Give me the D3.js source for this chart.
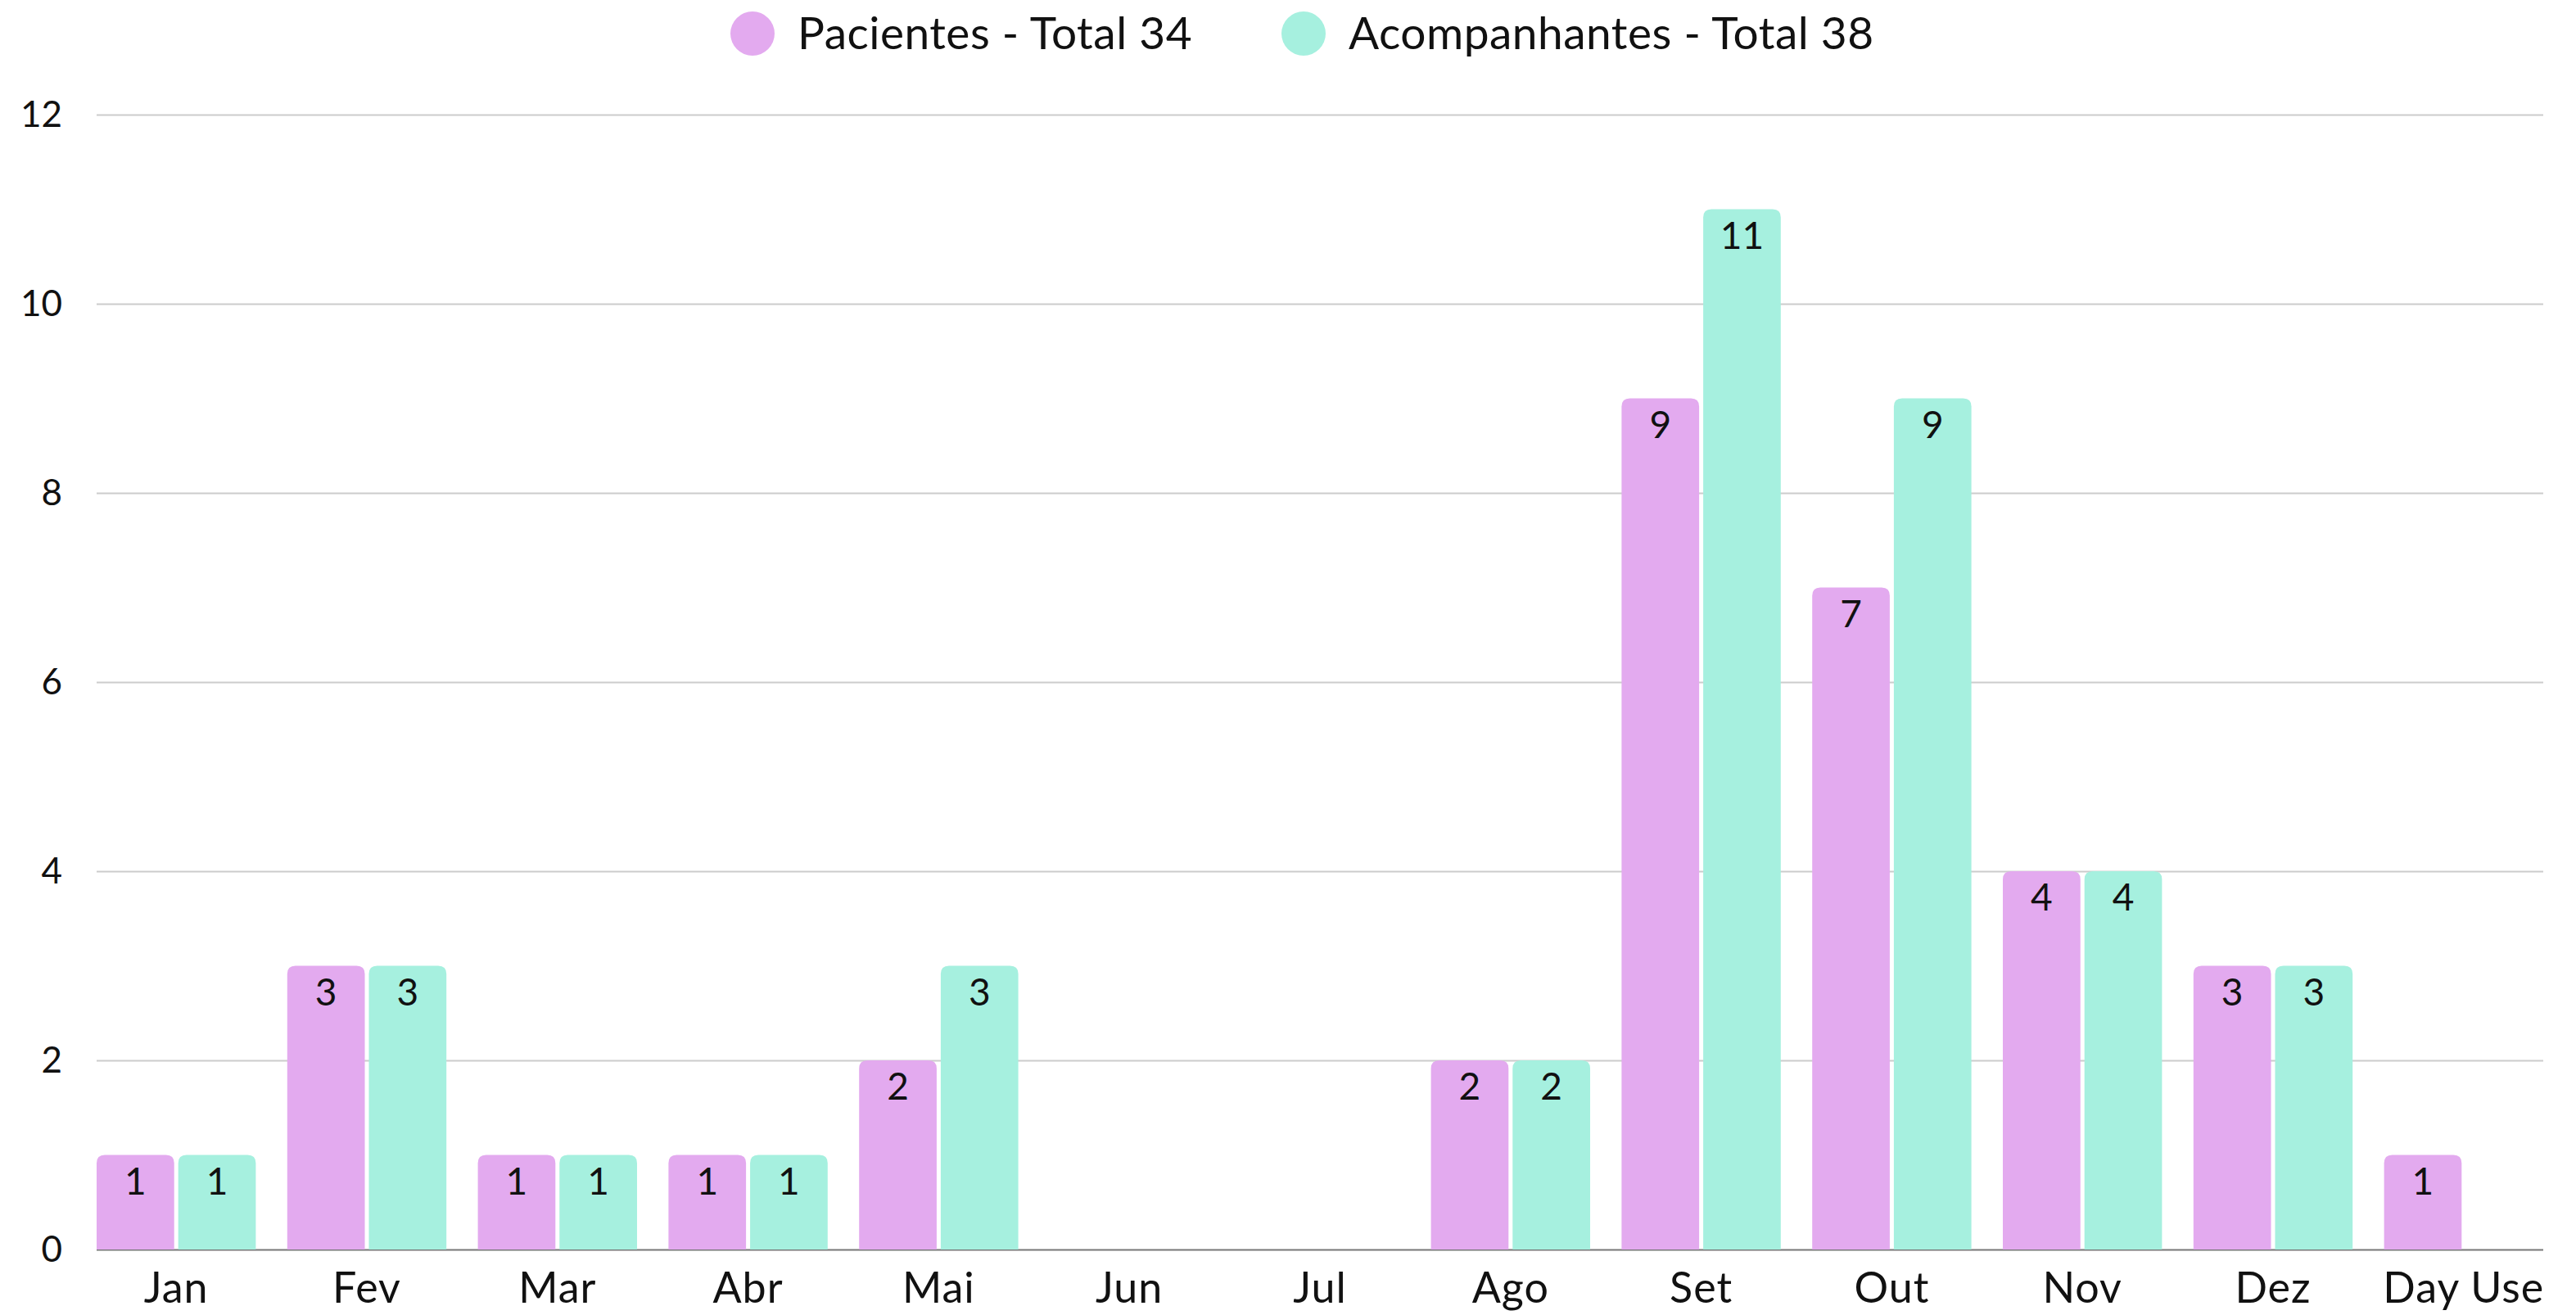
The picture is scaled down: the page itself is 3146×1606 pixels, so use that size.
<!DOCTYPE html>
<html>
<head>
<meta charset="utf-8">
<script src="https://cdn.jsdelivr.net/npm/d3@7"></script>
<style>
    body { margin: 0; background: #fff; }
    svg { display: block; font-family: Lato, 'Open Sans', sans-serif; }
</style>
</head>
<body>
<svg id="chart"></svg>
<script>
let months = ['Jan', 'Fev', 'Mar', 'Abr', 'Mai', 'Jun', 'Jul', 'Ago', 'Set', 'Out', 'Nov', 'Dez', 'Day Use'];
let pacientes = [1, 3, 1, 1, 2, 0, 0, 2, 9, 7, 4, 3, 1];
let acompanhantes = [1, 3, 1, 1, 3, 0, 0, 2, 11, 9, 4, 3, 0];
let seriesNames = ['Pacientes - Total 34', 'Acompanhantes - Total 38'];
let seriesColors = ['#e3aaef', '#a6f0df'];
let yTicks = [0, 2, 4, 6, 8, 10, 12];

window.addEventListener('load', () => {
    let width = 3146;
    let height = 1606;
    let margin = {top: 140, right: 40, bottom: 80, left: 118};

    let svg = d3.select('#chart')
                .attr('width', width)
                .attr('height', height);

    let x = d3.scaleBand()
              .domain(months)
              .range([margin.left, width - margin.right])
              .paddingInner(0.165)
              .paddingOuter(0);

    let xInner = d3.scaleBand()
                   .domain([0, 1])
                   .range([0, x.bandwidth()])
                   .paddingInner(0.05);

    let y = d3.scaleLinear()
              .domain([0, 12])
              .range([1526, margin.top]);

    // grid lines + y labels
    let yAxis = svg.append('g')
                   .attr('transform', `translate(${margin.left},0)`)
                   .call(d3.axisLeft(y).tickValues(yTicks).tickSize(-(width - margin.right - margin.left)).tickPadding(42));
    yAxis.select('.domain').remove();
    yAxis.selectAll('.tick line').attr('stroke', '#cccccc').attr('stroke-width', 2);
    yAxis.selectAll('.tick text')
         .attr('font-size', 44)
         .attr('fill', '#111')
         .attr('font-family', 'Lato, sans-serif');
    yAxis.selectAll('.tick').filter(d => d === 0).select('line').attr('stroke', '#777');

    let xAxis = svg.append('g')
                   .attr('transform', `translate(0,${y(0)})`)
                   .call(d3.axisBottom(x).tickSize(0).tickPadding(28));
    xAxis.select('.domain').remove();
    xAxis.selectAll('.tick text')
         .attr('font-size', 52)
         .attr('fill', '#111')
         .attr('dy', '0.71em')
         .attr('letter-spacing', 1)
         .attr('font-family', 'Lato, sans-serif');

    let rounded = (x0, w, top, bottom, r) => {
        r = Math.min(r, (bottom - top), w / 2);
        return `M${x0},${bottom}V${top + r}Q${x0},${top} ${x0 + r},${top}` +
               `H${x0 + w - r}Q${x0 + w},${top} ${x0 + w},${top + r}V${bottom}Z`;
    };

    let rows = [];
    months.forEach((m, i) => {
        [pacientes[i], acompanhantes[i]].forEach((v, s) => {
            if (v > 0) rows.push({month: m, series: s, value: v});
        });
    });

    let bars = svg.append('g');
    bars.selectAll('path')
        .data(rows)
        .enter().append('path')
        .attr('d', d => rounded(x(d.month) + xInner(d.series), xInner.bandwidth(), y(d.value), y(0), 10))
        .attr('fill', d => seriesColors[d.series]);

    bars.selectAll('text')
        .data(rows)
        .enter().append('text')
        .attr('x', d => x(d.month) + xInner(d.series) + xInner.bandwidth() / 2)
        .attr('y', d => y(d.value) + 48)
        .attr('text-anchor', 'middle')
        .attr('font-size', 46)
        .attr('fill', '#111')
        .text(d => d.value);

    // legend
    let legendX = [919, 1592];
    let legend = svg.append('g');
    seriesNames.forEach((name, i) => {
        legend.append('circle')
              .attr('cx', legendX[i])
              .attr('cy', 41)
              .attr('r', 27)
              .attr('fill', seriesColors[i]);
        legend.append('text')
              .attr('x', legendX[i] + 55)
              .attr('y', 41)
              .attr('dy', '0.35em')
              .attr('font-size', 55)
              .attr('letter-spacing', 0.5)
              .attr('fill', '#111')
              .text(name);
    });
});
</script>
</body>
</html>
